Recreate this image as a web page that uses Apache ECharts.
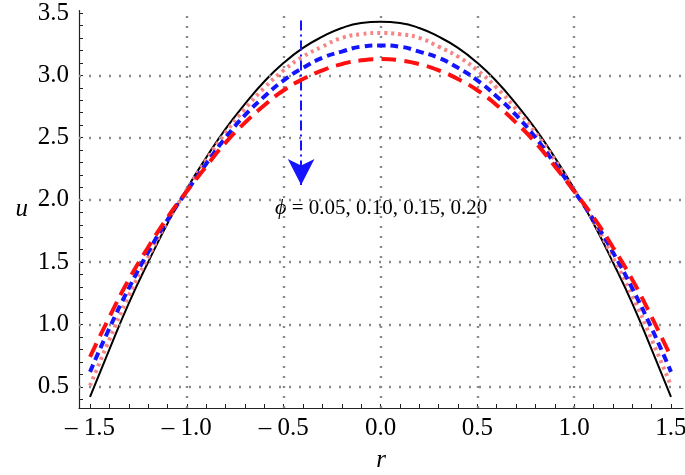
<!DOCTYPE html>
<html>
<head>
<meta charset="utf-8">
<script src="https://cdn.jsdelivr.net/npm/echarts@6/dist/echarts.min.js"></script>
<style>
  html, body { margin: 0; padding: 0; background: #fff; }
  #chart { width: 685px; height: 475px; }
</style>
</head>
<body>
<div id="chart"></div>
<script>
// radial positions, read every 0.1
const rValues = [-1.5, -1.4, -1.3, -1.2, -1.1, -1.0, -0.9, -0.8, -0.7, -0.6, -0.5, -0.4, -0.3, -0.2, -0.1,
  0, 0.1, 0.2, 0.3, 0.4, 0.5, 0.6, 0.7, 0.8, 0.9, 1.0, 1.1, 1.2, 1.3, 1.4, 1.5]

// velocity u for phi = 0.05, 0.10, 0.15, 0.20
const uPhi05 = [0.42, 0.80, 1.17, 1.50, 1.81, 2.09, 2.34, 2.57, 2.77, 2.95, 3.10, 3.22, 3.31, 3.38, 3.42,
  3.43, 3.42, 3.38, 3.31, 3.22, 3.10, 2.95, 2.77, 2.57, 2.34, 2.09, 1.81, 1.50, 1.17, 0.80, 0.42]
const uPhi10 = [0.51, 0.88, 1.23, 1.54, 1.83, 2.08, 2.32, 2.54, 2.73, 2.90, 3.04, 3.15, 3.23, 3.30, 3.33,
  3.34, 3.33, 3.30, 3.23, 3.15, 3.04, 2.90, 2.73, 2.54, 2.32, 2.08, 1.83, 1.54, 1.23, 0.88, 0.51]
const uPhi15 = [0.62, 0.97, 1.29, 1.58, 1.84, 2.07, 2.29, 2.50, 2.68, 2.83, 2.96, 3.06, 3.14, 3.19, 3.23,
  3.24, 3.23, 3.19, 3.14, 3.06, 2.96, 2.83, 2.68, 2.50, 2.29, 2.07, 1.84, 1.58, 1.29, 0.97, 0.62]
const uPhi20 = [0.74, 1.06, 1.36, 1.62, 1.86, 2.07, 2.27, 2.46, 2.62, 2.76, 2.88, 2.97, 3.04, 3.09, 3.12,
  3.13, 3.12, 3.09, 3.04, 2.97, 2.88, 2.76, 2.62, 2.46, 2.27, 2.07, 1.86, 1.62, 1.36, 1.06, 0.74]

// tick labels and grid lines
const xLabelValues = [-1.5, -1.0, -0.5, 0.0, 0.5, 1.0, 1.5]
const yLabelValues = [0.5, 1.0, 1.5, 2.0, 2.5, 3.0, 3.5]
const xGridValues = [-1.0, -0.5, 0.0, 0.5, 1.0]
const yGridValues = [0.5, 1.0, 1.5, 2.0, 2.5, 3.0]

// arrow annotation (r, u from top to tip)
const arrowStart = [-0.41, 3.44]
const arrowEnd = [-0.41, 2.12]
const annotationText = ' = 0.05, 0.10, 0.15, 0.20'

const serif = '"Liberation Serif", "DejaVu Serif", serif'

function minorTicks(from, to) {
  const out = []
  for (let i = Math.round(from * 10); i <= Math.round(to * 10); i++) out.push(i / 10)
  return out
}

function fmt(v) {
  return v < 0 ? '\u2013 ' + Math.abs(v).toFixed(1) : v.toFixed(1)
}

function zip(xs, ys) {
  return xs.map((x, i) => [x, ys[i]])
}

const chart = echarts.init(document.getElementById('chart'), null, { renderer: 'canvas' })

chart.setOption({
  animation: false,
  backgroundColor: '#fff',
  grid: { left: 79, right: 2, top: 10.5, bottom: 67, outerBoundsMode: 'none' },
  xAxis: {
    type: 'value',
    min: -1.557,
    max: 1.562,
    name: 'r',
    nameLocation: 'middle',
    nameGap: 40,
    nameTextStyle: { fontFamily: serif, fontStyle: 'italic', fontSize: 25, color: '#000' },
    axisLine: { onZero: false, lineStyle: { color: '#222', width: 1.2 } },
    axisTick: { inside: true, length: 4, customValues: minorTicks(-1.5, 1.5), lineStyle: { color: '#222' } },
    axisLabel: {
      customValues: xLabelValues,
      formatter: fmt,
      margin: 8,
      fontFamily: serif,
      fontSize: 25,
      color: '#000'
    },
    splitLine: { show: false }
  },
  yAxis: {
    type: 'value',
    min: 0.33,
    max: 3.52,
    name: 'u',
    nameLocation: 'middle',
    nameGap: 51,
    nameRotate: 0,
    nameTextStyle: { fontFamily: serif, fontStyle: 'italic', fontSize: 25, color: '#000', padding: [0, 0, 20, 0] },
    axisLine: { onZero: false, lineStyle: { color: '#222', width: 1.2 } },
    axisTick: { inside: true, length: 4, customValues: minorTicks(0.4, 3.5), lineStyle: { color: '#222' } },
    axisLabel: {
      customValues: yLabelValues,
      formatter: v => v.toFixed(1),
      margin: 10,
      fontFamily: serif,
      fontSize: 25,
      color: '#000'
    },
    splitLine: { show: false }
  },
  series: [
    {
      // dotted grid lines
      type: 'line',
      data: [],
      silent: true,
      z: 1,
      markLine: {
        silent: true,
        symbol: 'none',
        label: { show: false },
        lineStyle: { color: '#8a8a8a', width: 2.4, type: [2, 8] },
        data: xGridValues.map(v => ({ xAxis: v })).concat(yGridValues.map(v => ({ yAxis: v })))
      }
    },
    {
      name: 'phi = 0.05',
      type: 'line',
      data: zip(rValues, uPhi05),
      smooth: true,
      showSymbol: false,
      z: 3,
      lineStyle: { color: '#000', width: 2 }
    },
    {
      name: 'phi = 0.10',
      type: 'line',
      data: zip(rValues, uPhi10),
      smooth: true,
      showSymbol: false,
      z: 4,
      lineStyle: { color: '#f88585', width: 4, type: [3, 4] }
    },
    {
      name: 'phi = 0.15',
      type: 'line',
      data: zip(rValues, uPhi15),
      smooth: true,
      showSymbol: false,
      z: 5,
      lineStyle: { color: '#1414ff', width: 4, type: [8, 5] }
    },
    {
      name: 'phi = 0.20',
      type: 'line',
      data: zip(rValues, uPhi20),
      smooth: true,
      showSymbol: false,
      z: 6,
      lineStyle: { color: '#ff1010', width: 4, type: [15, 8] },
      markLine: {
        silent: true,
        label: { show: false },
        symbol: ['none', 'arrow'],
        symbolSize: [20, 26],
        lineStyle: { color: '#1414ff', width: 2, type: [10, 4, 2, 4] },
        data: [[{ coord: arrowStart }, { coord: arrowEnd }]]
      }
    }
  ],
  graphic: [
    {
      type: 'text',
      left: 275,
      top: 197,
      style: {
        text: '{i|\u03d5}' + annotationText,
        font: '21px ' + serif,
        fill: '#000',
        rich: {
          i: { fontFamily: serif, fontStyle: 'italic', fontSize: 22, fill: '#000' }
        }
      }
    }
  ]
})
</script>
</body>
</html>
